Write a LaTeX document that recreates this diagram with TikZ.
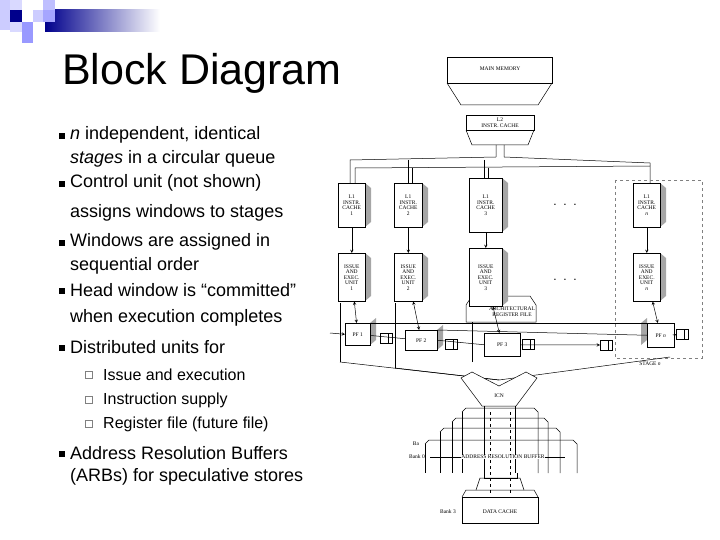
\documentclass[tikz,border=0pt]{standalone}
\usepackage{fontspec}
\setmainfont{Liberation Sans}
\newfontfamily\dfont{Liberation Serif}
\begin{document}
\begin{tikzpicture}[x=1pt,y=-1pt,
  txt/.style={anchor=west,inner sep=0pt,font=\fontsize{18}{20}\selectfont},
  blt/.style={fill=black,minimum size=5.5pt,inner sep=0pt},
  sblt/.style={draw=gray,line width=0.8pt,minimum size=7pt,inner sep=0pt},
  dbox/.style={draw,line width=0.5pt,fill=white,align=center,inner sep=0.5pt,font=\dfont\fontsize{5.5}{5.5}\selectfont},
  dl/.style={font=\dfont\fontsize{5.5}{6}\selectfont,inner sep=0pt,align=center},
  ln/.style={line width=0.5pt},
  arr/.style={ln,->,>=stealth}]
\useasboundingbox (0,0) rectangle (720,540);
% logo
\shade[left color=blue!55!black,right color=white] (45,10) rectangle (160,32);
\fill[blue!20] (0,0) rectangle (10,30);
\fill[blue!15] (10,0) rectangle (22,12);
\fill[blue!55!black] (10,10) rectangle (22,22);
\fill[blue!20] (33,10) rectangle (45,22);
\fill[blue!25] (43,0) rectangle (55,12);
\fill[blue!35] (43,10) rectangle (55,22);
\fill[blue!40] (22,22) rectangle (33,43);
\fill[blue!15] (10,22) rectangle (22,32);
\node[anchor=west,inner sep=0pt,font=\fontsize{43}{45}\selectfont] (title) at (62,73) {Block Diagram};
% bullets
\foreach \y/\t [count=\i] in {135/{\textit{n} independent, identical},183/{Control unit (not shown)},242/{Windows are assigned in},290/{Head window is “committed”},347/{Distributed units for},453/{Address Resolution Buffers}}{
  \node[blt] (b\i) at (62,\y+1) {};
  \node[txt] (t\i) at (70,\y) {\t};
}
\node[txt] (u1) at (70,159) {\textit{stages} in a circular queue};
\node[txt] (u2) at (70,213) {assigns windows to stages};
\node[txt] (u3) at (70,266) {sequential order};
\node[txt] (u4) at (70,318) {when execution completes};
\node[txt] (u6) at (70,477) {(ARBs) for speculative stores};
\foreach \y/\t [count=\i] in {375/Issue and execution,400/Instruction supply,424/Register file (future file)}{
  \node[sblt] (s\i) at (89,\y) {};
  \node[txt,font=\fontsize{16}{18}\selectfont] (st\i) at (103,\y) {\t};
}
% ---- diagram ----
\draw[ln] (447,57) rectangle (552,83);
\draw[ln] (447,83) -- (461,105) -- (538,105) -- (552,83);
\node[dl] (mm) at (500,69) {MAIN MEMORY};
\draw[ln] (466,115) rectangle (534,130);
\draw[ln] (466,130) -- (472,145) -- (528,145) -- (534,130);
\node[dl] (l2) at (500,123) {L2\\INSTR.\ CACHE};
% bus
\draw[ln] (496,145) -- (496,157) -- (350,160) -- (350,190);
\draw[ln] (504,145) -- (504,157) -- (650,163) -- (650,186);
\draw[ln] (355,190) -- (355,168) -- (650,166);
\draw[ln] (408,160) -- (408,183) (412,168) -- (412,183);
\draw[ln] (484,160) -- (484,180) (488,168) -- (488,180);
% stage n dashed
\draw[ln,dashed,gray] (615,180) rectangle (702,358);
\node[dl] (stn) at (650,364) {STAGE \textit{n}};
% arf
\draw[ln] (466,305) -- (472,296) -- (530,296) -- (536,305) -- (536,322) -- (466,322) -- cycle;
\node[dl] (arf) at (512,312) {ARCHITECTURAL\\REGISTER FILE};
% L1 and issue units
\foreach \n/\x/\w/\t/\h in {1/338/27/1/0,2/394/28/2/0,3/469/33/3/5,n/633/27/\textit{n}/0}{
  \fill[gray!70] (\x+\w,183-\h) -- (\x+\w+6,188-\h) -- (\x+\w+6,222+\h) -- (\x+\w,227+\h) -- cycle;
  \node[dbox,minimum width=\w pt,minimum height={44+2*\h},anchor=north west] (c\n) at (\x,183-\h) {L1\\INSTR.\\CACHE\\\t};
  \fill[gray!70] (\x+\w,253-\h) -- (\x+\w+6,258-\h) -- (\x+\w+6,296+\h) -- (\x+\w,301+\h) -- cycle;
  \node[dbox,minimum width=\w pt,minimum height={48+2*\h},anchor=north west] (e\n) at (\x,253-\h) {ISSUE\\AND\\EXEC.\\UNIT\\\t};
  \draw[arr] (c\n) -- (e\n);
}
\node[dl,font=\fontsize{12}{12}\selectfont] (d1) at (565,205) {.\ \ .\ \ .};
\node[dl,font=\fontsize{12}{12}\selectfont] (d2) at (565,280) {.\ \ .\ \ .};
% PFs
\fill[gray!70] (370,323) -- (376,318) -- (376,340) -- (370,345) -- cycle;
\node[dbox,minimum width=25pt,minimum height=22pt,anchor=north west] (p1) at (345,323) {PF 1};
\fill[gray!70] (437,330) -- (443,325) -- (443,345) -- (437,350) -- cycle;
\node[dbox,minimum width=32pt,minimum height=20pt,anchor=north west] (p2) at (405,330) {PF 2};
\node[dbox,minimum width=36pt,minimum height=23pt,anchor=north west] (p3) at (484,333) {PF 3};
\fill[gray!70] (641,323) -- (647,318) -- (647,340) -- (641,345) -- cycle;
\node[dbox,minimum width=27pt,minimum height=24pt,anchor=north west] (pn) at (647,323) {PF \textit{n}};
\draw[arr,<->] (e1) -- (p1);
\draw[arr,<->] (e2) -- (p2);
\draw[arr,<->] (e3) -- (p3);
\draw[arr,<->] (en) -- (pn);
\foreach \q/\x/\y in {q1/380/338,q2/445/344,q3/522/344,q4/600/345,qn/676/334}{
  \draw[ln] (\x,\y-5) rectangle (\x+12,\y+5);
  \draw[ln] (\x+8,\y-5) -- (\x+8,\y+5);
  \coordinate (\q) at (\x,\y);
}
\draw[ln] (p1) -- (p2);
\draw[ln] (p2.east) -- (p3.west);
\draw[arr] (p3.east) -- (q4);
\draw[arr] (pn.east) -- (qn);
\draw[ln] (p1.north east) -- (pn.north west);
\draw[ln] (p2.north east) -- (pn.west);
\draw[arr] (330,333) -- (p1.west);
% ICN
\draw[ln] (340,362) -- (499,380) -- (670,357);
\draw[ln] (395,368) -- (499,380);
\draw[ln] (340,362) -- (340,303);
\draw[ln] (395,368) -- (395,303);
\draw[ln] (472,362) -- (472,322);
\draw[ln,fill=white] (461,378) -- (472,372) -- (499,386) -- (526,372) -- (537,378) -- (516,406) -- (482,406) -- cycle;
\node[dl] (icn) at (499,396) {ICN};
% ARB
\foreach \a/\b/\t in {462/538/408,452/548/418,440/560/428,425/577/440}{
  \draw[ln] (\a,\t+4) -- (\a+4,\t) -- (\b-4,\t) -- (\b,\t+4) -- (\b,473);
  \draw[ln] (\a,\t+4) -- (\a,473);
}
\draw[ln,dashed] (490,412) -- (490,495) (510,412) -- (510,495);
\draw[ln] (484,406) -- (484,473) (515,406) -- (515,473);
\node[dl,fill=white] (arb) at (503,457) {ADDRESS RESOLUTION BUFFER};
\draw[ln] (430,457) -- (arb.west);
\draw[ln] (arb.east) -- (565,457);
\node[dl] (bank0) at (417,457) {Bank 0};
\node[dl] (ba) at (416,444) {Ba};
% data cache
\draw[ln] (484,473) -- (484,478) -- (517,478) -- (517,473);
\draw[ln] (476,490) -- (480,478) -- (520,478) -- (524,490);
\draw[ln] (462,497) -- (466,490) -- (534,490) -- (538,497);
\draw[ln] (462,497) rectangle (538,523);
\node[dl] (dc) at (500,512) {DATA CACHE};
\node[dl] (bank3) at (448,512) {Bank 3};
\end{tikzpicture}
\end{document}
